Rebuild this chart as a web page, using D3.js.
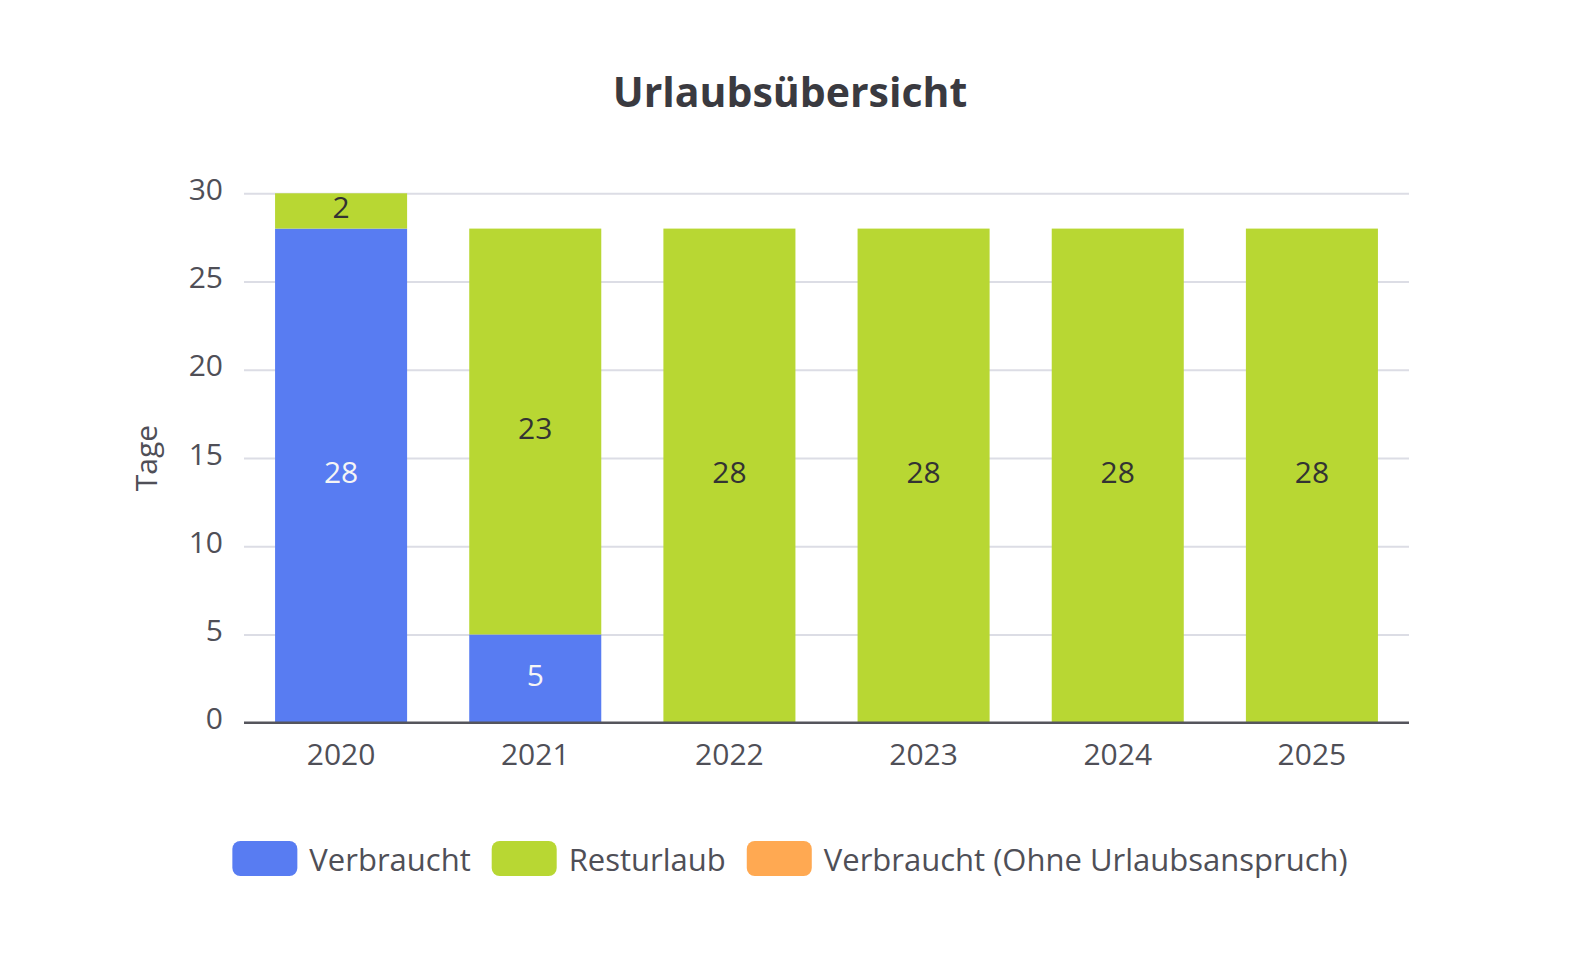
<!DOCTYPE html>
<html>
<head>
<meta charset="utf-8">
<script src="https://cdn.jsdelivr.net/npm/d3@7"></script>
<style>
  html, body { margin: 0; padding: 0; background: #fff; overflow: hidden; }
  svg { display: block; }
  text { font-family: "Open Sans", "Noto Sans", sans-serif; }
</style>
</head>
<body>
<script>
const width = 1578;
const height = 953;
const margin = {top: 193.3, right: 169, bottom: 230.3, left: 244};

const years = ['2020', '2021', '2022', '2023', '2024', '2025'];
const verbraucht = [28, 5, 0, 0, 0, 0];
const resturlaub = [2, 23, 28, 28, 28, 28];
const ohneAnspruch = [0, 0, 0, 0, 0, 0];
const yTicks = [0, 5, 10, 15, 20, 25, 30];

const seriesNames = ['Verbraucht', 'Resturlaub', 'Verbraucht (Ohne Urlaubsanspruch)'];
const colors = ['#587cf2', '#b8d733', '#ffa952'];
const labelColors = ['#f5f5f5', '#333', '#333'];
const textColor = '#4f4f57';

const table = years.map((y, i) => ({year: y, v: verbraucht[i], r: resturlaub[i], o: ohneAnspruch[i]}));
const stack = d3.stack().keys(['v', 'r', 'o'])(table);

const x = d3.scaleBand()
  .domain(years)
  .range([margin.left, width - margin.right])
  .paddingInner(0.32)
  .paddingOuter(0.16);

const y = d3.scaleLinear()
  .domain([0, 30])
  .range([height - margin.bottom, margin.top]);

const svg = d3.select('body').append('svg')
  .attr('width', width)
  .attr('height', height);

// title
svg.append('text')
  .attr('x', 790).attr('y', 107)
  .attr('text-anchor', 'middle')
  .style('font-size', '41px').style('font-weight', 700).style('fill', '#3a3a40')
  .text('Urlaubsübersicht');

// grid + y axis
svg.append('g')
  .attr('transform', `translate(${margin.left},0)`)
  .call(d3.axisLeft(y).tickValues(yTicks).tickSize(0))
  .call(g => g.select('.domain').remove())
  .call(g => g.selectAll('.tick text')
    .attr('x', -21).attr('y', 6).attr('dy', null)
    .style('font-size', '30px').style('fill', textColor))
  .call(g => g.selectAll('.tick').filter(d => d !== 0).append('line')
    .attr('x2', width - margin.right - margin.left)
    .style('stroke', '#dcdde5').style('stroke-width', 2));

svg.append('text')
  .attr('transform', `translate(145,${y(15)}) rotate(-90)`)
  .attr('text-anchor', 'middle').attr('dominant-baseline', 'central')
  .style('font-size', '30px').style('fill', textColor)
  .text('Tage');

// bars
const layers = svg.append('g').selectAll('g')
  .data(stack)
  .join('g')
  .attr('fill', (d, i) => colors[i]);

layers.selectAll('rect')
  .data(d => d.filter(s => s[1] - s[0] > 0))
  .join('rect')
  .attr('x', d => x(d.data.year))
  .attr('y', d => y(d[1]))
  .attr('width', x.bandwidth())
  .attr('height', d => y(d[0]) - y(d[1]));

layers.each(function(layer, i) {
  d3.select(this).selectAll('text')
    .data(layer.filter(s => s[1] - s[0] > 0))
    .join('text')
    .attr('x', d => x(d.data.year) + x.bandwidth() / 2)
    .attr('y', d => y((d[0] + d[1]) / 2) + 7)
    .attr('text-anchor', 'middle')
    .style('font-size', '30px').style('fill', labelColors[i])
    .text(d => d[1] - d[0]);
});

// x axis
svg.append('g')
  .attr('transform', `translate(0,${height - margin.bottom})`)
  .call(d3.axisBottom(x).tickSize(0))
  .call(g => g.select('.domain').attr('d', `M${margin.left},0H${width - margin.right}`)
    .style('stroke', '#55555c').style('stroke-width', 2.5))
  .call(g => g.selectAll('.tick text')
    .attr('y', 42).attr('dy', null)
    .style('font-size', '30px').style('fill', textColor));

// legend
const legend = svg.append('g');
const items = legend.selectAll('g').data(seriesNames).join('g');
items.append('rect')
  .attr('width', 65).attr('height', 35).attr('rx', 8)
  .attr('fill', (d, i) => colors[i]);
items.append('text')
  .attr('x', 77).attr('y', 17.5)
  .attr('dominant-baseline', 'central')
  .style('font-size', '31px').style('fill', textColor)
  .text(d => d);

let off = 0;
const widths = [];
items.each(function() {
  widths.push(this.getBBox().width);
});
const gap = 21;
const total = d3.sum(widths) + gap * (widths.length - 1);
const start = 790 - total / 2;
items.attr('transform', (d, i) => {
  const t = `translate(${start + off},841)`;
  off += widths[i] + gap;
  return t;
});
</script>
</body>
</html>
